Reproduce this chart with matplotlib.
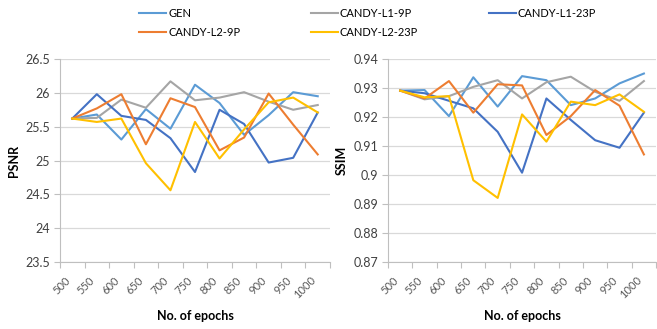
import numpy as np
import matplotlib
matplotlib.use("Agg")
import matplotlib.pyplot as plt
import matplotlib.transforms as mtransforms

plt.rcParams['font.family'] = ['Lato', 'DejaVu Sans']

# data
epochs = ['500', '550', '600', '650', '700', '750', '800', '850', '900', '950', '1000']

psnr_gen = [25.62, 25.68, 25.31, 25.76, 25.47, 26.12, 25.85, 25.38, 25.67, 26.01, 25.95]
psnr_l1_9p = [25.62, 25.63, 25.90, 25.78, 26.17, 25.89, 25.93, 26.01, 25.87, 25.75, 25.82]
psnr_l1_23p = [25.62, 25.98, 25.66, 25.60, 25.33, 24.83, 25.75, 25.54, 24.97, 25.04, 25.71]
psnr_l2_9p = [25.62, 25.77, 25.98, 25.24, 25.92, 25.79, 25.15, 25.34, 25.99, 25.53, 25.09]
psnr_l2_23p = [25.62, 25.57, 25.62, 24.96, 24.56, 25.57, 25.03, 25.46, 25.86, 25.93, 25.71]

ssim_gen = [0.9291, 0.9293, 0.9203, 0.9337, 0.9236, 0.9341, 0.9327, 0.9241, 0.9264, 0.9316, 0.9350]
ssim_l1_9p = [0.9291, 0.9261, 0.9272, 0.9304, 0.9327, 0.9264, 0.9320, 0.9339, 0.9287, 0.9256, 0.9324]
ssim_l1_23p = [0.9291, 0.9282, 0.9256, 0.9230, 0.9149, 0.9008, 0.9264, 0.9190, 0.9120, 0.9094, 0.9215]
ssim_l2_9p = [0.9291, 0.9264, 0.9324, 0.9215, 0.9313, 0.9309, 0.9138, 0.9203, 0.9293, 0.9239, 0.9071]
ssim_l2_23p = [0.9291, 0.9268, 0.9272, 0.8982, 0.8921, 0.9209, 0.9115, 0.9253, 0.9241, 0.9278, 0.9218]

names = ['GEN', 'CANDY-L1-9P', 'CANDY-L1-23P', 'CANDY-L2-9P', 'CANDY-L2-23P']
colors = ['#5B9BD5', '#A5A5A5', '#4472C4', '#ED7D31', '#FFC000']

psnr = [psnr_gen, psnr_l1_9p, psnr_l1_23p, psnr_l2_9p, psnr_l2_23p]
ssim = [ssim_gen, ssim_l1_9p, ssim_l1_23p, ssim_l2_9p, ssim_l2_23p]

fig = plt.figure(figsize=(6.57, 3.29), dpi=100)
ax1 = fig.add_axes([0.0913, 0.2036, 0.411, 0.617])
ax2 = fig.add_axes([0.5906, 0.2036, 0.408, 0.617])

x = np.arange(len(epochs))


def style(ax, data, ylim, yticks, ylabel):
    handles = []
    for vals, name, c in zip(data, names, colors):
        h, = ax.plot(x, vals, color=c, lw=1.5, label=name)
        handles.append(h)
    ax.set_xlim(-0.5, len(epochs) - 0.5)
    ax.set_ylim(*ylim)
    ax.set_yticks(yticks)
    ax.set_yticklabels(['%g' % v for v in yticks])
    ax.grid(axis='y', color='#D9D9D9', lw=0.9)
    ax.set_axisbelow(True)
    for s in ['top', 'right']:
        ax.spines[s].set_visible(False)
    ax.spines['left'].set_color('#BFBFBF')
    ax.spines['bottom'].set_color('#BFBFBF')
    # category boundaries as major ticks, labels on minor ticks
    ax.set_xticks(np.arange(-0.5, len(epochs)))
    ax.set_xticklabels([])
    ax.set_xticks(x, minor=True)
    labels = ax.set_xticklabels(epochs, minor=True, rotation=45, ha='right',
                                fontsize=8, color='#595959')
    shift = mtransforms.ScaledTranslation(3 / 72, 0, fig.dpi_scale_trans)
    for lab in labels:
        lab.set_transform(lab.get_transform() + shift)
    ax.tick_params(axis='x', which='major', length=4, color='#BFBFBF')
    ax.tick_params(axis='x', which='minor', length=0, pad=9)
    ax.tick_params(axis='y', length=4, color='#BFBFBF', labelsize=9,
                   labelcolor='#404040', pad=3)
    ax.set_ylabel(ylabel, fontsize=9, fontweight='bold')
    ax.set_xlabel('No. of epochs', fontsize=9, fontweight='bold', labelpad=7)
    return handles


handles = style(ax1, psnr, (23.5, 26.5), np.arange(23.5, 26.51, 0.5), 'PSNR')
style(ax2, ssim, (0.87, 0.94), np.round(np.arange(0.87, 0.9401, 0.01), 2), 'SSIM')

order = [0, 3, 1, 4, 2]
fig.legend([handles[i] for i in order], [names[i] for i in order],
           ncol=3, loc='upper left', bbox_to_anchor=(0.197, 1.006),
           frameon=False, fontsize=8, handlelength=2.4, handletextpad=0.2,
           columnspacing=6.36, labelspacing=0.72)

fig.savefig('out.png', dpi=100, facecolor='white')
